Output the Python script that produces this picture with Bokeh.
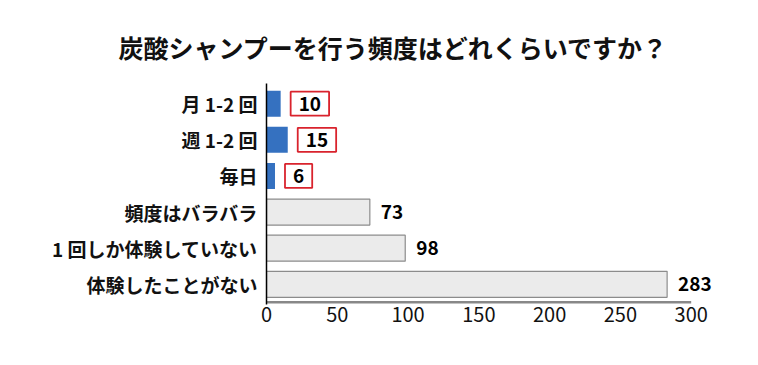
from bokeh.plotting import figure
from bokeh.models import ColumnDataSource, FactorRange, Title, Range1d
from bokeh.core.properties import value
from bokeh.embed import file_html
from bokeh.resources import INLINE

categories = ["月 1-2 回", "週 1-2 回", "毎日", "頻度はバラバラ", "1 回しか体験していない", "体験したことがない"]
counts = [10, 15, 6, 73, 98, 283]
highlight = [True, True, True, False, False, False]
x_ticks = [0, 50, 100, 150, 200, 250, 300]
title_text = "炭酸シャンプーを行う頻度はどれくらいですか？"

FONT = "Noto Sans CJK JP"
BLUE = "#3571c0"

p = figure(width=742, height=345, output_backend="svg", toolbar_location=None,
           y_range=FactorRange(*reversed(categories), range_padding=0.06,
                               range_padding_units="absolute"),
           x_range=Range1d(0, 320), min_border_left=266, min_border_right=23,
           min_border_bottom=41, min_border_top=83)

p.title = Title(text=title_text, align="left", offset=-148, standoff=38,
                text_font=FONT, text_font_size="25px", text_font_style="bold",
                text_color="#111111")

blue_src = ColumnDataSource(dict(
    y=[c for c, h in zip(categories, highlight) if h],
    x=[v for v, h in zip(counts, highlight) if h],
    t=[str(v) for v, h in zip(counts, highlight) if h]))
gray_src = ColumnDataSource(dict(
    y=[c for c, h in zip(categories, highlight) if not h],
    x=[v for v, h in zip(counts, highlight) if not h],
    t=[str(v) for v, h in zip(counts, highlight) if not h]))

p.hbar(y="y", right="x", left=0, height=0.72, source=blue_src,
       fill_color=BLUE, line_color=None)
p.hbar(y="y", right="x", left=0, height=0.72, source=gray_src,
       fill_color="#ebebeb", line_color="#8c8c8c", line_width=1.2)

# x axis baseline from 0 to the last tick
axis_src = ColumnDataSource(dict(x0=[x_ticks[0]], x1=[x_ticks[-1]],
                                 y=[(categories[-1], -0.5)]))
p.segment(x0="x0", x1="x1", y0="y", y1="y", source=axis_src,
          line_color="#888888", line_width=2.5)

p.text(x="x", y="y", text="t", source=blue_src, x_offset=10,
       text_align="left", text_baseline="middle", text_font=value(FONT),
       text_font_size="19px", text_font_style="bold", text_color="#000000",
       background_fill_color="white", border_line_color="#d9232d",
       border_line_width=1.8, padding=(8, 5))
p.text(x="x", y="y", text="t", source=gray_src, x_offset=11,
       text_align="left", text_baseline="middle", text_font=value(FONT),
       text_font_size="19px", text_font_style="bold", text_color="#000000")

p.xgrid.visible = False
p.ygrid.visible = False
p.outline_line_color = None

p.xaxis.ticker = x_ticks
p.xaxis.axis_line_color = None
p.xaxis.major_tick_line_color = None
p.xaxis.minor_tick_line_color = None
p.xaxis.major_label_text_font = FONT
p.xaxis.major_label_text_font_size = "20px"
p.xaxis.major_label_text_color = "#111111"
p.xaxis.major_label_standoff = -4

p.yaxis.axis_line_color = "#000000"
p.yaxis.axis_line_width = 1.5
p.yaxis.major_tick_line_color = None
p.yaxis.minor_tick_line_color = None
p.yaxis.major_label_text_font = FONT
p.yaxis.major_label_text_font_size = "19px"
p.yaxis.major_label_text_font_style = "bold"
p.yaxis.major_label_text_color = "#111111"
p.yaxis.major_label_standoff = 3

open("out.html", "w").write(file_html(p, INLINE))
